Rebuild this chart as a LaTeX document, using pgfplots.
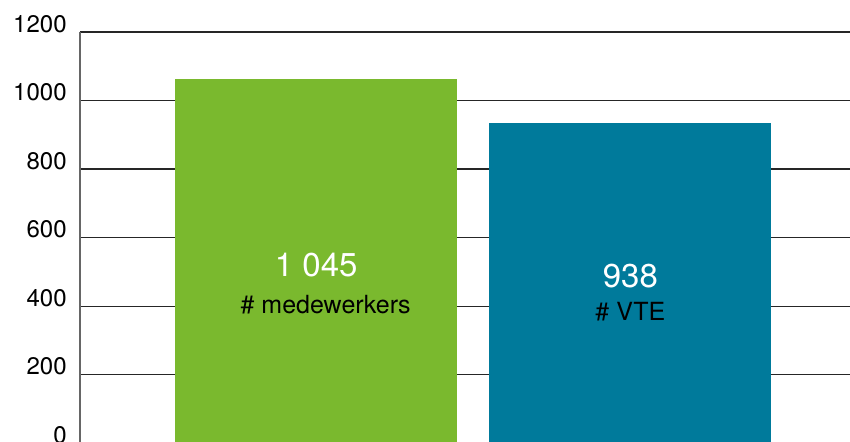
\documentclass[border=0pt]{standalone}
\usepackage{pgfplots}
\pgfplotsset{compat=1.18}
\usepackage{fontspec}
\setmainfont{TeX Gyre Heros}
\definecolor{vgreen}{RGB}{122,185,46}
\definecolor{vblue}{RGB}{0,122,155}
\begin{document}
\begin{tikzpicture}
\begin{axis}[
  scale only axis,
  width=385pt, height=205.6pt,
  xmin=0.248, xmax=2.699,
  ymin=0, ymax=1200,
  ytick={0,200,...,1200},
  axis y line*=left,
  axis x line=none,
  ymajorgrids,
  major grid style={black!85, line width=0.6pt},
  y axis line style={black!60, line width=0.6pt, -},
  ytick style={draw=none},
  yticklabel style={anchor=base east, inner sep=0pt, xshift=-6.5pt, font=\fontsize{12}{14}\selectfont},
  /pgf/number format/assume math mode=true,
  /pgf/number format/1000 sep={},
  ybar, bar width=0.898, bar shift=0pt,
  axis on top=false,
]
\addplot[fill=vgreen, draw=none] coordinates {(1,1062)};
\addplot[fill=vblue, draw=none] coordinates {(2,935)};
\coordinate (tl) at (rel axis cs:0,1);
\node[text=white, font=\fontsize{16.5}{18}\selectfont] at (axis cs:1,520) {1 045};
\node[text=black, font=\fontsize{12.5}{14}\selectfont] at (axis cs:1.03,403) {\# medewerkers};
\node[text=white, font=\fontsize{16.5}{18}\selectfont] at (axis cs:2,488) {938};
\node[text=black, font=\fontsize{12.5}{14}\selectfont] at (axis cs:2,383) {\# VTE};
\end{axis}
\pgfresetboundingbox
\path[use as bounding box] ([xshift=-40pt,yshift=16pt]tl) rectangle ++(425pt,-220.5pt);
\end{tikzpicture}
\end{document}
